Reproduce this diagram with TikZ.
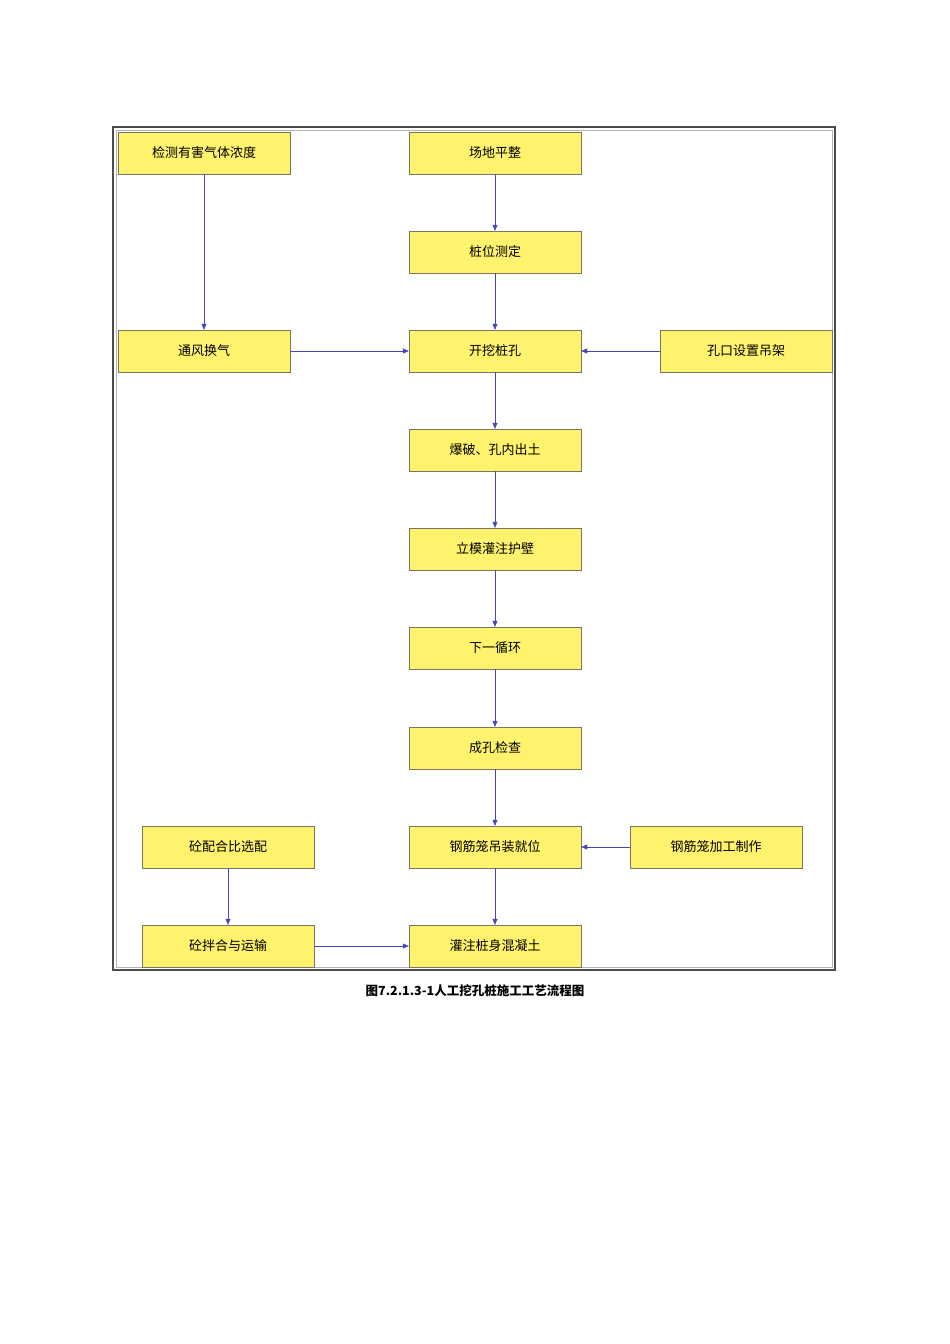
\documentclass[tikz,border=0pt]{standalone}
\usepackage{fontspec}
\newfontfamily\cjk{Noto Sans CJK SC}
\usetikzlibrary{arrows.meta}
\begin{document}
\begin{tikzpicture}[x=1pt,y=-1pt,
 box/.style={draw=gray!70!yellow!60!black,fill=yellow!55!white!95!orange,minimum width=172pt,minimum height=42pt,font=\cjk\fontsize{13}{15}\selectfont,inner sep=0pt},
 arr/.style={draw=blue!45!gray,-{Triangle[length=6pt,width=5pt]}}]
\useasboundingbox (0,0) rectangle (950,1344);
\draw[gray!60!black,line width=1.5pt] (113,127) rectangle (835,970);
\draw[gray!60,line width=0.5pt] (116,130) rectangle (832,967);
\node[box] (a) at (204,153) {检测有害气体浓度};
\node[box] (b) at (495,153) {场地平整};
\node[box] (c) at (495,252) {桩位测定};
\node[box] (d) at (204,351) {通风换气};
\node[box] (e) at (495,351) {开挖桩孔};
\node[box] (f) at (746,351) {孔口设置吊架};
\node[box] (g) at (495,450) {爆破、孔内出土};
\node[box] (h) at (495,549) {立模灌注护壁};
\node[box] (i) at (495,648) {下一循环};
\node[box] (j) at (495,748) {成孔检查};
\node[box] (k) at (228,847) {砼配合比选配};
\node[box] (l) at (495,847) {钢筋笼吊装就位};
\node[box] (m) at (716,847) {钢筋笼加工制作};
\node[box] (n) at (228,946) {砼拌合与运输};
\node[box] (o) at (495,946) {灌注桩身混凝土};
\draw[arr] (a) -- (d);
\draw[arr] (b) -- (c);
\draw[arr] (c) -- (e);
\draw[arr] (d) -- (e);
\draw[arr] (f) -- (e);
\draw[arr] (e) -- (g);
\draw[arr] (g) -- (h);
\draw[arr] (h) -- (i);
\draw[arr] (i) -- (j);
\draw[arr] (j) -- (l);
\draw[arr] (m) -- (l);
\draw[arr] (l) -- (o);
\draw[arr] (k) -- (n);
\draw[arr] (n) -- (o);
\node[font=\cjk\bfseries\fontsize{12.5}{14}\selectfont] (cap) at (475,991) {图7.2.1.3-1人工挖孔桩施工工艺流程图};
\end{tikzpicture}
\end{document}
